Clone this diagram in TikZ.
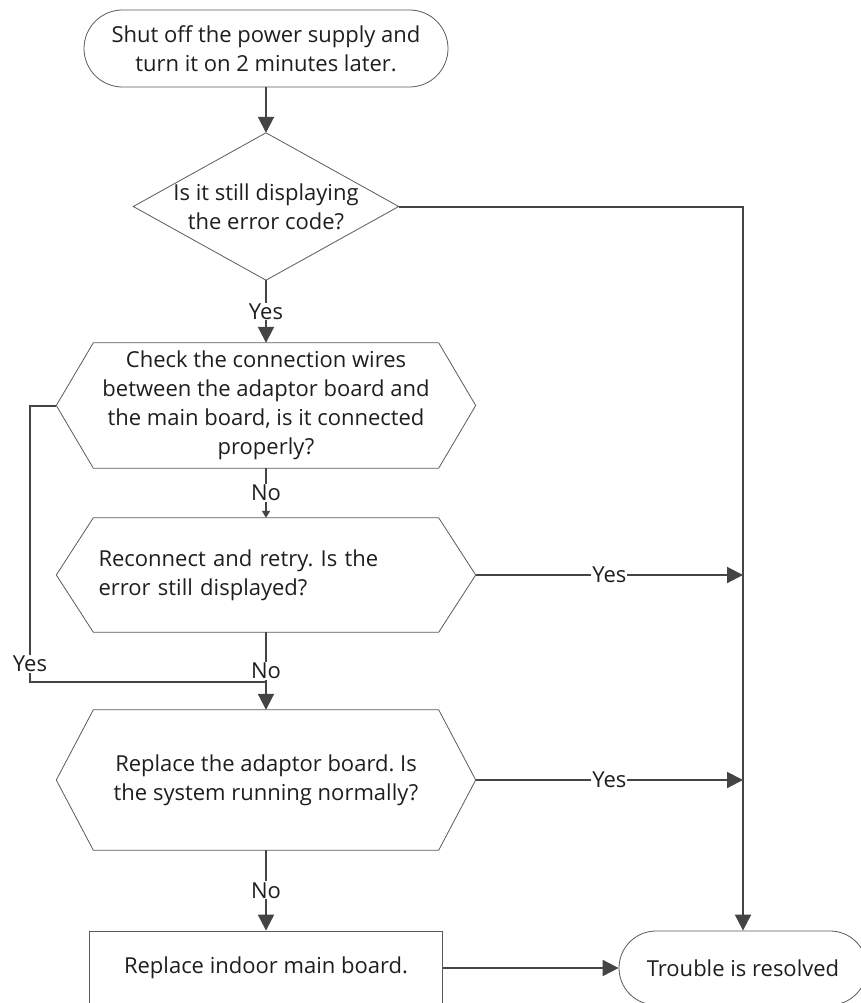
\documentclass[tikz,border=0pt]{standalone}
\usepackage{fontspec}
\setmainfont{Open Sans}
\usetikzlibrary{arrows.meta,calc}
\definecolor{linec}{HTML}{444444}
\definecolor{edgec}{HTML}{5A5A5A}
\definecolor{txtc}{HTML}{1E1E1E}
\newcommand\hexdraw[1]{\draw[hexline] (#1.west) -- ([xshift=37pt]#1.north west) -- ([xshift=-37pt]#1.north east) -- (#1.east) -- ([xshift=-37pt]#1.south east) -- ([xshift=37pt]#1.south west) -- cycle;}
\frenchspacing
\begin{document}
\begin{tikzpicture}[x=1pt,y=-1pt,
  base/.style={font=\fontsize{22}{29}\selectfont, text=txtc, inner sep=0pt},
  term/.style={base, draw=edgec, line width=0.8pt, align=center},
  shapebox/.style={base, minimum width=419pt, align=center},
  conn/.style={draw=linec, line width=2pt},
  arr/.style={conn, -{Triangle[length=16pt,width=16pt]}},
  smallarr/.style={conn, -{Triangle[length=7pt,width=8pt]}},
  lab/.style={base, fill=white, inner sep=1pt},
  hexline/.style={draw=edgec, line width=0.8pt}]
\useasboundingbox (0,0) rectangle (861,1003);

% start terminal
\node[term, minimum width=364pt, minimum height=77pt, rounded corners=38.5pt] (start) at (266,48.5)
  {Shut off the power supply and\\turn it on 2 minutes later.};

% decision diamond
\node[base, minimum width=265pt, minimum height=147pt, align=center] (d1) at (266,206.5)
  {Is it still displaying\\the error code?};
\draw[hexline] (d1.north) -- (d1.east) -- (d1.south) -- (d1.west) -- cycle;

% hexagons
\node[shapebox, minimum height=125pt] (h1) at (266,405.5)
  {Check the connection wires\\between the adaptor board and\\the main board, is it connected\\properly?};
\hexdraw{h1}

\node[shapebox, minimum height=114pt, align=left, text width=335pt, inner xsep=42pt] (h2) at (266,575)
  {Reconnect and retry. Is the\\error still displayed?};
\hexdraw{h2}

\node[shapebox, minimum height=140pt] (h3) at (266,780)
  {Replace the adaptor board. Is\\the system running normally?};
\hexdraw{h3}

% process box and end terminal
\node[base, draw=edgec, line width=0.8pt, minimum width=353pt, minimum height=74pt] (mb) at (266,968)
  {Replace indoor main board.};
\node[term, minimum width=248pt, minimum height=74pt, rounded corners=37pt] (tr) at (743,968)
  {Trouble is resolved};

% connectors
\draw[arr] (start.south) -- (d1.north);
\draw[arr] (d1.south) -- node[lab]{Yes} (h1.north);
\draw[arr] (d1.east) -| (tr.north);
\draw[smallarr] (h1.south) -- node[lab]{No} (h2.north);
\draw[arr] (h2.south) -- node[lab]{No} (h3.north);
\draw[arr] (h2.east) -- node[lab]{Yes} (h2.east -| tr.north);
\draw[arr] (h3.east) -- node[lab]{Yes} (h3.east -| tr.north);
\draw[arr] (h3.south) -- node[lab]{No} (mb.north);
\draw[arr] (mb.east) -- (tr.west);

% left loop
\node[lab] (ylab) at (30,664) {Yes};
\coordinate (m) at (266,682);
\draw[conn] (h1.west) -| (ylab.north);
\draw[conn] (ylab.south) |- (m);
\end{tikzpicture}
\end{document}
